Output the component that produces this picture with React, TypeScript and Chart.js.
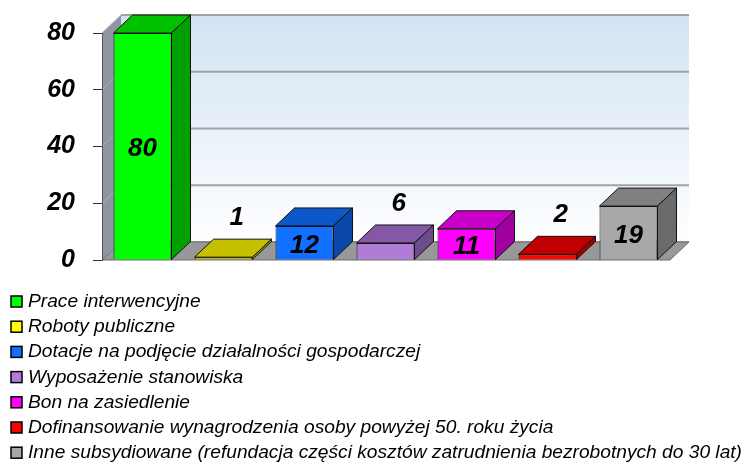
import React, { useEffect, useRef } from "react";
import { Chart, registerables } from "chart.js";

Chart.register(...registerables);

const categories = [
  "Prace interwencyjne",
  "Roboty publiczne",
  "Dotacje na podjęcie działalności gospodarczej",
  "Wyposażenie stanowiska",
  "Bon na zasiedlenie",
  "Dofinansowanie wynagrodzenia osoby powyżej 50. roku życia",
  "Inne subsydiowane (refundacja części kosztów zatrudnienia bezrobotnych do 30 lat)",
];
const values = [80, 1, 12, 6, 11, 2, 19];
const yMin = 0;
const yMax = 80;
const yStep = 20;

const frontColors = ["#00FF00", "#C8C800", "#1170FF", "#B07CD8", "#FF00FF", "#FF0000", "#A8A8A8"];
const topColors = ["#00C000", "#C4C000", "#0C58C8", "#8458A4", "#C800C8", "#C00000", "#808080"];
const sideColors = ["#00A000", "#A0A000", "#0B48A8", "#6E4C8C", "#A000A0", "#A00000", "#6A6A6A"];
const legendColors = ["#00FF00", "#FFFF00", "#1170FF", "#B07CD8", "#FF00FF", "#FF0000", "#A8A8A8"];

const DX = 19;
const DY = 18;
const NUM_FONT = 'italic bold 26px "Liberation Sans", Arial, sans-serif';
const LEGEND_FONT = 'italic 18px "Liberation Sans", Arial, sans-serif';

const scenePlugin = {
  id: "scene3d",
  beforeDraw(chart: any) {
    const { ctx, chartArea } = chart;
    const ys = chart.scales.y;
    const { left, right, top, bottom } = chartArea;
    ctx.save();
    const g = ctx.createLinearGradient(0, top - DY, 0, bottom - DY);
    g.addColorStop(0, "#D3E3F3");
    g.addColorStop(0.55, "#EAF2FA");
    g.addColorStop(1, "#FFFFFF");
    ctx.fillStyle = g;
    ctx.fillRect(left + DX, top - DY, right - left + 1, bottom - top);
    ctx.beginPath();
    ctx.moveTo(left, top);
    ctx.lineTo(left + DX, top - DY);
    ctx.lineTo(left + DX, bottom - DY);
    ctx.lineTo(left, bottom);
    ctx.closePath();
    ctx.fillStyle = "#8E97A1";
    ctx.fill();
    for (let v = yMin; v <= yMax; v += yStep) {
      const y = ys.getPixelForValue(v);
      ctx.beginPath();
      ctx.moveTo(left + DX, y - DY);
      ctx.lineTo(right + DX + 1, y - DY);
      ctx.strokeStyle = "#A3A3A3";
      ctx.lineWidth = 2;
      ctx.stroke();
      ctx.beginPath();
      ctx.moveTo(left, y);
      ctx.lineTo(left + DX, y - DY);
      ctx.strokeStyle = "#A9B0B8";
      ctx.lineWidth = 1;
      ctx.stroke();
    }
    ctx.beginPath();
    ctx.moveTo(left, bottom);
    ctx.lineTo(left + DX, bottom - DY);
    ctx.lineTo(right + DX + 1, bottom - DY);
    ctx.lineTo(right + 1, bottom);
    ctx.closePath();
    ctx.fillStyle = "#989898";
    ctx.fill();
    ctx.strokeStyle = "#6E6E6E";
    ctx.lineWidth = 1;
    ctx.stroke();
    ctx.restore();
  },
  afterDatasetsDraw(chart: any) {
    const { ctx } = chart;
    const meta = chart.getDatasetMeta(0);
    ctx.save();
    ctx.lineWidth = 1;
    ctx.strokeStyle = "#111111";
    ctx.lineJoin = "round";
    meta.data.forEach((bar: any, i: number) => {
      const { x, y, base, width } = bar.getProps(["x", "y", "base", "width"], true);
      const l = x - width / 2;
      const r = x + width / 2;
      ctx.beginPath();
      ctx.moveTo(l, y);
      ctx.lineTo(l + DX, y - DY);
      ctx.lineTo(r + DX, y - DY);
      ctx.lineTo(r, y);
      ctx.closePath();
      ctx.fillStyle = topColors[i];
      ctx.fill();
      ctx.stroke();
      ctx.beginPath();
      ctx.moveTo(r, y);
      ctx.lineTo(r + DX, y - DY);
      ctx.lineTo(r + DX, base - DY);
      ctx.lineTo(r, base);
      ctx.closePath();
      ctx.fillStyle = sideColors[i];
      ctx.fill();
      ctx.stroke();
    });
    ctx.font = NUM_FONT;
    ctx.fillStyle = "#000";
    ctx.textAlign = "center";
    ctx.textBaseline = "middle";
    meta.data.forEach((bar: any, i: number) => {
      const { x, y, base } = bar.getProps(["x", "y", "base"], true);
      const v = values[i];
      if (v >= 10) {
        ctx.fillText(String(v), x, (y + base) / 2 + 3);
      } else {
        ctx.fillText(String(v), x + DX * 0.7, y - DY - 21);
      }
    });
    ctx.restore();
  },
  afterDraw(chart: any) {
    const { ctx } = chart;
    ctx.save();
    ctx.font = LEGEND_FONT;
    const widest = Math.max(...categories.map((c) => ctx.measureText(c).width));
    const sx = Math.min(1.15, Math.max(0.8, 714 / widest));
    ctx.textAlign = "left";
    ctx.textBaseline = "alphabetic";
    categories.forEach((c, i) => {
      const yb = 307 + i * 25.2;
      ctx.fillStyle = legendColors[i];
      ctx.fillRect(11, yb - 11, 11, 11);
      ctx.strokeStyle = "#000";
      ctx.lineWidth = 1.5;
      ctx.strokeRect(11, yb - 11, 11, 11);
      ctx.save();
      ctx.translate(28, yb);
      ctx.scale(sx, 1);
      ctx.fillStyle = "#000";
      ctx.fillText(c, 0, 0);
      ctx.restore();
    });
    ctx.restore();
  },
};

export default function App() {
  const ref = useRef<HTMLCanvasElement | null>(null);
  useEffect(() => {
    if (!ref.current) return;
    const chart = new Chart(ref.current, {
      type: "bar",
      data: {
        labels: categories,
        datasets: [
          {
            data: values,
            backgroundColor: frontColors,
            borderColor: "#111111",
            borderWidth: 1,
            categoryPercentage: 1,
            barPercentage: 0.716,
          },
        ],
      },
      options: {
        responsive: false,
        animation: false,
        layout: { padding: { top: 33, bottom: 205, left: 8, right: 81 } },
        plugins: { legend: { display: false }, tooltip: { enabled: false } },
        scales: {
          x: { display: false },
          y: {
            min: yMin,
            max: yMax,
            ticks: {
              stepSize: yStep,
              color: "#000",
              padding: 18,
              font: { family: '"Liberation Sans", Arial, sans-serif', size: 25, style: "italic", weight: "bold" },
            },
            grid: { display: true, drawOnChartArea: false, drawTicks: true, tickLength: 9, color: "#333", lineWidth: 1 },
            border: { display: true, color: "#555", width: 1 },
            afterFit: (s: any) => {
              s.width = 94;
            },
          },
        },
      },
      plugins: [scenePlugin],
    });
    return () => chart.destroy();
  }, []);
  return (
    <div style={{ position: "fixed", left: 0, top: 0, width: 750, height: 465, background: "#fff" }}>
      <canvas ref={ref} width={750} height={465} style={{ width: 750, height: 465, display: "block" }} />
    </div>
  );
}
